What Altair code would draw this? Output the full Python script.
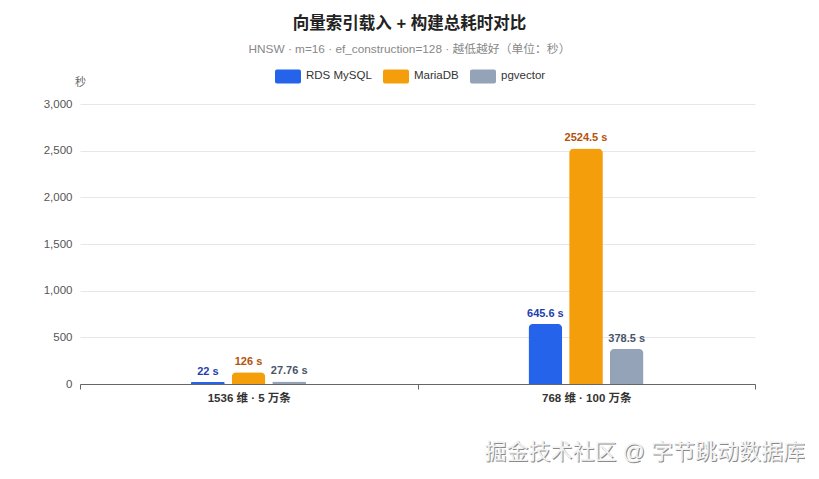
import altair as alt
import pandas as pd

categories = ["1536 维 · 5 万条", "768 维 · 100 万条"]
series = ["RDS MySQL", "MariaDB", "pgvector"]
mysql_s = [22, 645.6]
mariadb_s = [126, 2524.5]
pgvector_s = [27.76, 378.5]
bar_colors = ["#2563eb", "#f59e0b", "#94a3b8"]
label_colors = ["#1e40af", "#b45309", "#475569"]
y_ticks = [0, 500, 1000, 1500, 2000, 2500, 3000]
watermark = ["掘金技术社区 @ 字节跳动数据库"]

rows = []
for s, vals, lc in zip(series, [mysql_s, mariadb_s, pgvector_s], label_colors):
    for c, v in zip(categories, vals):
        rows.append({"category": c, "series": s, "seconds": v, "label": f"{v:g} s", "lc": lc})
df = pd.DataFrame(rows)
wm = pd.DataFrame({"t": watermark})

FONT = "Liberation Sans, Noto Sans CJK SC, sans-serif"
RR = ("M-0.85,-0.54 H0.85 A0.15,0.15 0 0 1 1,-0.39 V0.39 A0.15,0.15 0 0 1 0.85,0.54 "
      "H-0.85 A0.15,0.15 0 0 1 -1,0.39 V-0.39 A0.15,0.15 0 0 1 -0.85,-0.54 Z")

x = alt.X("category:N", sort=categories, title=None,
          scale=alt.Scale(paddingInner=0, paddingOuter=0),
          axis=alt.Axis(labelAngle=0, tickBand="extent", labelFontWeight="bold",
                        labelColor="#333", labelFontSize=11.5, labelPadding=3,
                        domainColor="#666", tickColor="#666", tickSize=5, grid=False))
xo = alt.XOffset("series:N", sort=series,
                 scale=alt.Scale(range=[111, 226], paddingInner=0.17, paddingOuter=0))
y = alt.Y("seconds:Q", scale=alt.Scale(domain=[0, 3000]),
          axis=alt.Axis(values=y_ticks, format=",.0f", title="秒", titleAngle=0,
                        titleX=0, titleY=-22, titleAlign="center", titleBaseline="middle",
                        titleColor="#666", titleFontWeight="normal", titleFontSize=11,
                        labelColor="#555", labelFontSize=11.5, labelPadding=8,
                        domain=False, ticks=False, gridColor="#e5e7eb"))

bars = alt.Chart(df).mark_bar(cornerRadiusTopLeft=5, cornerRadiusTopRight=5).encode(
    x=x, xOffset=xo, y=y,
    color=alt.Color("series:N", sort=series,
                    scale=alt.Scale(domain=series, range=bar_colors),
                    legend=alt.Legend(title=None, orient="none", legendX=195, legendY=-41,
                                      direction="horizontal", symbolType=RR, symbolSize=676,
                                      symbolStrokeWidth=0, symbolOpacity=1,
                                      labelFontSize=11.5, labelColor="#333",
                                      columnPadding=10, labelOffset=5)),
)
labels = alt.Chart(df).mark_text(dy=-5, fontWeight="bold", fontSize=11, baseline="bottom").encode(
    x=x, xOffset=xo, y=y, text="label:N", color=alt.Color("lc:N", scale=None))

wm_shadow = alt.Chart(wm).mark_text(align="right", baseline="middle", fontSize=22,
                                    color="#8a8a8a").encode(
    x=alt.value(726), y=alt.value(349), text="t:N")
wm_text = alt.Chart(wm).mark_text(align="right", baseline="middle", fontSize=22,
                                  color="#f2f2f2").encode(
    x=alt.value(725), y=alt.value(348), text="t:N")

chart = alt.layer(bars, labels, wm_shadow, wm_text).properties(
    width=675, height=280,
    padding={"left": 72, "top": 96, "right": 50, "bottom": 80},
    autosize="none",
    title=alt.TitleParams(text="向量索引载入 + 构建总耗时对比",
                          subtitle="HNSW · m=16 · ef_construction=128 · 越低越好（单位：秒）",
                          fontSize=16.5, fontWeight="bold", color="#222",
                          subtitleFontSize=11.8, subtitleColor="#888", subtitlePadding=12,
                          anchor="middle", dx=-8, offset=7),
).configure(font=FONT).configure_view(stroke=None)

chart.save("out.html", embed_options={"renderer": "svg", "actions": False})
